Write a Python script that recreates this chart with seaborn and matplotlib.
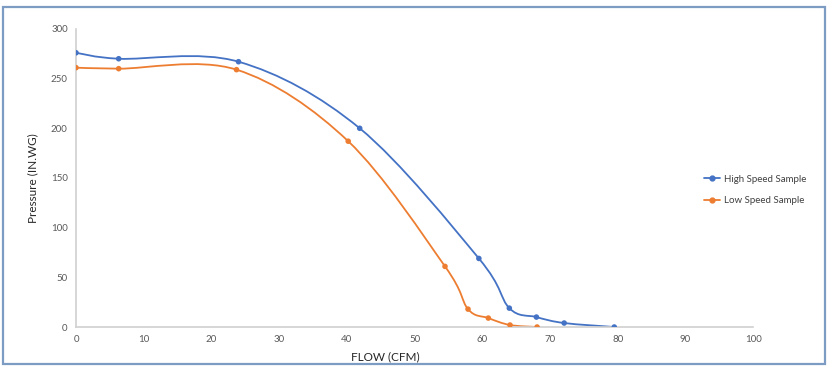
import numpy as np
import pandas as pd
import matplotlib
matplotlib.use("Agg")
import matplotlib.pyplot as plt
import seaborn as sns
from matplotlib.path import Path
from matplotlib.patches import PathPatch, Rectangle
from matplotlib.lines import Line2D

# data
high_flow = [0, 6.3, 24.0, 41.9, 59.5, 64.0, 68.0, 72.1, 79.5]
high_pressure = [276, 270, 267, 200, 69, 19, 10, 4, 0]
low_flow = [0, 6.3, 23.7, 40.2, 54.5, 57.9, 60.9, 64.1, 68.1]
low_pressure = [261, 260, 259, 187, 61, 18, 9, 2, 0]

blue = "#4472C4"
orange = "#ED7D31"

sns.set_theme(style="white")
plt.rcParams["font.family"] = ["Lato", "DejaVu Sans"]

df = pd.concat([
    pd.DataFrame({"flow": high_flow, "pressure": high_pressure, "series": "High Speed Sample"}),
    pd.DataFrame({"flow": low_flow, "pressure": low_pressure, "series": "Low Speed Sample"}),
])


def smooth_path(xs, ys):
    # Excel-style smoothed line: cubic Bezier segments with Catmull-Rom handles
    pts = np.column_stack([xs, ys]).astype(float)
    n = len(pts)
    verts = [pts[0]]
    codes = [Path.MOVETO]
    for i in range(n - 1):
        p0 = pts[i - 1] if i > 0 else pts[i]
        p1 = pts[i]
        p2 = pts[i + 1]
        p3 = pts[i + 2] if i + 2 < n else pts[i + 1]
        c1 = p1 + (p2 - p0) / 6
        c2 = p2 - (p3 - p1) / 6
        verts += [c1, c2, p2]
        codes += [Path.CURVE4] * 3
    return Path(verts, codes)


fig = plt.figure(figsize=(8.3, 3.68), dpi=100)
ax = fig.add_axes([0.0916, 0.1114, 0.8157, 0.81])

# chart border like the spreadsheet frame
fig.patches.append(Rectangle((0.004, 0.012), 0.99, 0.968, transform=fig.transFigure,
                             fill=False, edgecolor="#7d9cc4", linewidth=1.6))

palette = {"High Speed Sample": blue, "Low Speed Sample": orange}
for name, grp in df.groupby("series"):
    ax.add_patch(PathPatch(smooth_path(grp["flow"], grp["pressure"]), facecolor="none",
                           edgecolor=palette[name], linewidth=1.3, zorder=2))
sns.scatterplot(data=df, x="flow", y="pressure", hue="series", palette=palette,
                s=16, edgecolor="none", legend=False, ax=ax, zorder=3)

ax.set_xlim(0, 100)
ax.set_ylim(0, 300)
ax.set_xticks(range(0, 101, 10))
ax.set_yticks(range(0, 301, 50))
ax.tick_params(axis="both", labelsize=7, colors="#595959", length=0, pad=6)
for s in ["top", "right"]:
    ax.spines[s].set_visible(False)
for s in ["left", "bottom"]:
    ax.spines[s].set_color("#d0d0d0")
    ax.spines[s].set_linewidth(1.2)

ax.set_xlabel("FLOW (CFM)", fontsize=8.5, color="#262626")
ax.xaxis.set_label_coords(0.457, -0.08)
ax.set_ylabel("Pressure (IN.WG)", fontsize=8.5, color="#262626")
ax.yaxis.set_label_coords(-0.055, 0.5)

handles = [Line2D([0], [0], color=blue, marker="o", markersize=3.5, linewidth=1.3),
           Line2D([0], [0], color=orange, marker="o", markersize=3.5, linewidth=1.3)]
fig.legend(handles, ["High Speed Sample", "Low Speed Sample"], loc="center left",
           bbox_to_anchor=(0.838, 0.484), frameon=False, fontsize=7, handlelength=1.6,
           handletextpad=0.4, labelspacing=1.3, labelcolor="#404040")

fig.savefig("out.png", dpi=100)
